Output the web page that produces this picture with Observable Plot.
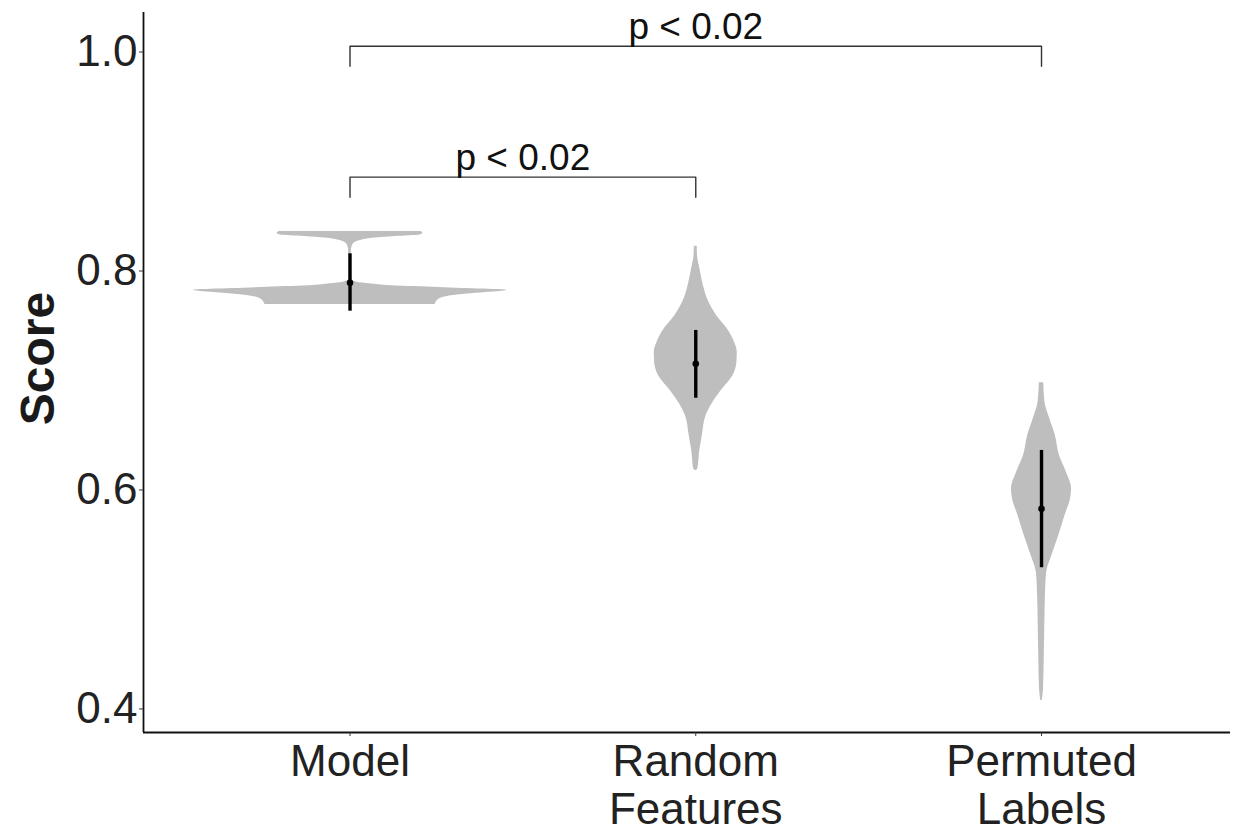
<!DOCTYPE html>
<html>
<head>
<meta charset="utf-8">
<script src="https://cdn.jsdelivr.net/npm/d3@7"></script>
<script src="https://cdn.jsdelivr.net/npm/@observablehq/plot@0.6"></script>
<style>
  html, body { margin: 0; padding: 0; background: #fff; }
  #chart { width: 1244px; height: 836px; }
</style>
</head>
<body>
<div id="chart"></div>
<script>
// ---- data ----
const categories = ["Model", "Random\nFeatures", "Permuted\nLabels"];
const categoryPos = [1, 2, 3];
const yTicks = [0.4, 0.6, 0.8, 1.0];
const yLabel = "Score";

// violin outlines: score value and half-width (in category units)
const modelY  = [0.7694, 0.7715, 0.7755, 0.7776, 0.7804, 0.7813, 0.7822, 0.7831, 0.7843, 0.7852, 0.7868, 0.7883, 0.7898, 0.7920, 0.8005, 0.8187, 0.8233, 0.8260, 0.8283, 0.8301, 0.8315, 0.8329, 0.8342, 0.8361];
const modelHW = [0.246, 0.249, 0.266, 0.298, 0.393, 0.434, 0.454, 0.425, 0.309, 0.240, 0.107, 0.058, 0.020, 0.0040, 0.0035, 0.0040, 0.0072, 0.0145, 0.035, 0.072, 0.130, 0.202, 0.211, 0.205];

const randomY  = [0.6178, 0.6194, 0.6345, 0.6498, 0.6680, 0.6802, 0.6924, 0.7046, 0.7167, 0.7259, 0.7350, 0.7472, 0.7594, 0.7715, 0.7868, 0.8020, 0.8142, 0.8227];
const randomHW = [0.0015, 0.006, 0.011, 0.019, 0.030, 0.050, 0.078, 0.108, 0.119, 0.120, 0.112, 0.091, 0.060, 0.038, 0.022, 0.012, 0.005, 0.0043];

const permutedY  = [0.4078, 0.4184, 0.4458, 0.4763, 0.5067, 0.5249, 0.5402, 0.5584, 0.5767, 0.5920, 0.6011, 0.6163, 0.6315, 0.6498, 0.6650, 0.6802, 0.6979];
const permutedHW = [0.0023, 0.0058, 0.0078, 0.0095, 0.0116, 0.0150, 0.030, 0.050, 0.068, 0.084, 0.087, 0.072, 0.052, 0.040, 0.024, 0.010, 0.0064];

// summary (point + interval)
const means = [0.7892, 0.7153, 0.5828];
const lows  = [0.7633, 0.6838, 0.5290];
const highs = [0.8157, 0.7457, 0.6361];

// significance brackets
const bracketFrom  = [1, 1];
const bracketTo    = [2, 3];
const bracketTop   = [0.8857, 1.0053];
const bracketTip   = [0.8674, 0.9870];
const bracketLabel = ["p < 0.02", "p < 0.02"];

// ---- build tables ----
const violinSets = [[modelY, modelHW], [randomY, randomHW], [permutedY, permutedHW]];
const violin = violinSets.flatMap(([ys, hws], i) =>
  ys.map((y, j) => ({cat: categoryPos[i], y, x1: categoryPos[i] - hws[j], x2: categoryPos[i] + hws[j]})));
const summary = categoryPos.map((c, i) => ({cat: c, mean: means[i], lo: lows[i], hi: highs[i]}));
const brackets = bracketFrom.map((f, i) => ({id: i, from: f, to: bracketTo[i], top: bracketTop[i], tip: bracketTip[i], label: bracketLabel[i]}));
const bracketPath = brackets.flatMap(b => [
  {id: b.id, x: b.from, y: b.tip},
  {id: b.id, x: b.from, y: b.top},
  {id: b.id, x: b.to, y: b.top},
  {id: b.id, x: b.to, y: b.tip}
]);

const xDomain = [0.4027, 3.5466];
const yDomain = [0.3785, 1.0361];

const chart = Plot.plot({
  width: 1244,
  height: 836,
  marginLeft: 143,
  marginRight: 14,
  marginTop: 12,
  marginBottom: 104,
  style: {fontFamily: "'Liberation Sans', Arial, Helvetica, sans-serif", background: "#fff", overflow: "visible"},
  x: {domain: xDomain, axis: null},
  y: {domain: yDomain, axis: null},
  marks: [
    Plot.areaX(violin, {y: "y", x1: "x1", x2: "x2", z: "cat", fill: "#bebebe", curve: "monotone-y"}),
    Plot.ruleX(summary, {x: "cat", y1: "lo", y2: "hi", stroke: "#000", strokeWidth: 3.4}),
    Plot.dot(summary, {x: "cat", y: "mean", r: 3.3, fill: "#000", stroke: "none"}),
    Plot.line(bracketPath, {x: "x", y: "y", z: "id", stroke: "#333", strokeWidth: 1.4, curve: "linear"}),
    Plot.text(brackets, {x: d => (d.from + d.to) / 2, y: "top", text: "label", fontSize: 37, fill: "#111", lineAnchor: "bottom", dy: -7}),
    Plot.ruleX([xDomain[0]], {stroke: "#111", strokeWidth: 1.8}),
    Plot.ruleY([yDomain[0]], {stroke: "#111", strokeWidth: 1.8}),
    Plot.axisY({ticks: yTicks, tickFormat: d3.format(".1f"), tickSize: 4, tickPadding: 2, fontSize: 44, stroke: "#333", fill: "#222", label: null}),
    Plot.axisX({ticks: categoryPos, tickFormat: i => categories[i - 1], tickSize: 4, tickPadding: 5, fontSize: 44, lineHeight: 1.1, stroke: "#333", fill: "#222", label: null}),
    Plot.text([yLabel], {frameAnchor: "left", textAnchor: "middle", rotate: -90, dx: -105, dy: -14, fontSize: 48, fontWeight: "bold", fill: "#1a1a1a"})
  ]
});
document.getElementById("chart").appendChild(chart);
</script>
</body>
</html>
